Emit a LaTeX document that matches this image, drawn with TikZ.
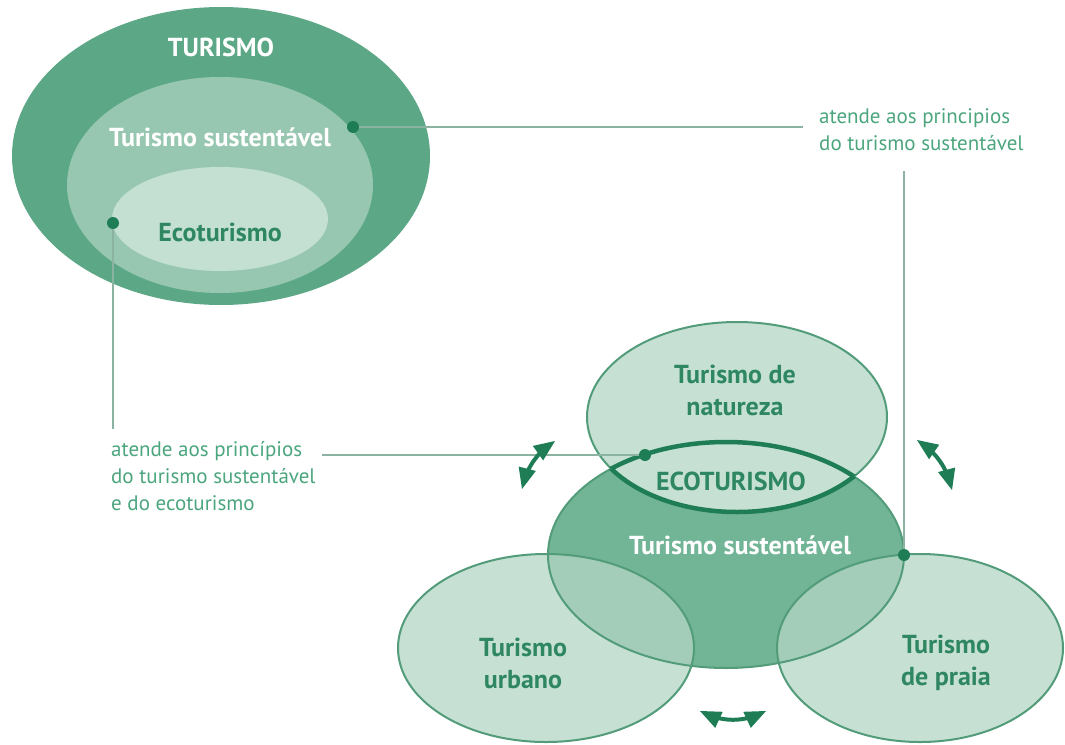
\documentclass[tikz,border=0pt]{standalone}
\usepackage{fontspec}
\setmainfont{PT Sans}
\usepackage{tikz}
\usetikzlibrary{arrows}

\definecolor{turfill}{HTML}{5CA886}
\definecolor{susfill}{HTML}{98C7B1}
\definecolor{ecofill}{HTML}{C4E0D3}
\definecolor{lightfill}{HTML}{C6E1D4}
\definecolor{darkfill}{HTML}{72B496}
\definecolor{midfill}{HTML}{A3CDB9}
\definecolor{rim}{HTML}{529C79}
\definecolor{deep}{HTML}{1E7D55}
\definecolor{ink}{HTML}{2F8762}
\definecolor{labelink}{HTML}{4BA57D}
\definecolor{leader}{HTML}{8CB3A1}

\begin{document}
\begin{tikzpicture}[x=1pt,y=-1pt,>=triangle 45,
                    head/.style={font=\fontsize{26}{32}\selectfont\bfseries,align=center},
                    note/.style={font=\fontsize{21}{27}\selectfont,text=labelink,align=left,
                                 inner sep=0pt},
                    dot/.style={circle,fill=deep,inner sep=0pt,minimum size=12pt}]
\tikzstyle{rimline}=[draw=rim,line width=2pt]
\tikzstyle{lens}=[draw=deep,line width=4.5pt]
\tikzstyle{twoway}=[<->,draw=deep,line width=4pt]
\useasboundingbox (0,0) rectangle (1065,744);

% nested ellipses
\fill[turfill] (221,156) ellipse (209 and 149);
\fill[susfill] (220,185) ellipse (153 and 108);
\fill[ecofill] (220,219) ellipse (108 and 52);
\node[head,text=white] (tur) at (221,47) {TURISMO};
\node[head,text=white] (tsus) at (220,137) {Turismo sustentável};
\node[head,text=ink] (teco) at (220,232) {Ecoturismo};

% overlapping ellipses
\coordinate (natc) at (737,417);
\coordinate (susc) at (726,555);
\coordinate (urbc) at (546,648);
\coordinate (prac) at (920,648);
\fill[darkfill] (susc) ellipse (178 and 113);
\fill[lightfill] (urbc) ellipse (148 and 94);
\fill[lightfill] (prac) ellipse (143 and 94);
\begin{scope}
  \clip (susc) ellipse (178 and 113);
  \fill[midfill] (urbc) ellipse (148 and 94);
  \fill[midfill] (prac) ellipse (143 and 94);
\end{scope}
\fill[lightfill] (natc) ellipse (150 and 95);
\path[rimline] (susc) ellipse (178 and 113);
\path[rimline] (urbc) ellipse (148 and 94);
\path[rimline] (prac) ellipse (143 and 94);
\path[rimline] (natc) ellipse (150 and 95);
\begin{scope}
  \clip (natc) ellipse (150 and 95);
  \path[lens] (susc) ellipse (178 and 113);
\end{scope}
\begin{scope}
  \clip (susc) ellipse (178 and 113);
  \path[lens] (natc) ellipse (150 and 95);
\end{scope}

\node[head,text=ink] (nat) at (735,390) {Turismo de\\natureza};
\node[head,text=ink] (ecob) at (731,481) {ECOTURISMO};
\node[head,text=white] (susb) at (740,545) {Turismo sustentável};
\node[head,text=ink] (urb) at (523,663) {Turismo\\urbano};
\node[head,text=ink] (pra) at (946,663) {Turismo\\de praia};

% notes
\node[note,anchor=north west] (rnote) at (819,108)
  {atende aos principios\\do turismo sustentável};
\node[note,anchor=north west] (lnote) at (111,441)
  {atende aos princípios\\do turismo sustentável\\e do ecoturismo};

\node[dot] (d1) at (353,127) {};
\node[dot] (d2) at (904,555) {};
\node[dot] (d3) at (113,223) {};
\node[dot] (d4) at (645,455) {};

\draw[leader,line width=2pt] (d1) -- ([xshift=-16pt]d1 -| rnote.west);
\draw[leader,line width=2pt] (d2) -- ([yshift=-20pt]d2 |- rnote.south);
\draw[leader,line width=2pt] (d3) -- ([yshift=12pt]d3 |- lnote.north);
\draw[leader,line width=2pt] (d4) -- ([xshift=6pt]d4 -| lnote.east);

% arrows between the kinds of tourism
\coordinate (la1) at (522,489);
\coordinate (la2) at (555,441);
\coordinate (ra1) at (917,440);
\coordinate (ra2) at (952,490);
\coordinate (ba1) at (700,711);
\coordinate (ba2) at (766,711);
\draw[twoway] (la1) to[bend left=20] (la2);
\draw[twoway] (ra1) to[bend left=20] (ra2);
\draw[twoway] (ba1) to[bend right=25] (ba2);
\end{tikzpicture}
\end{document}
